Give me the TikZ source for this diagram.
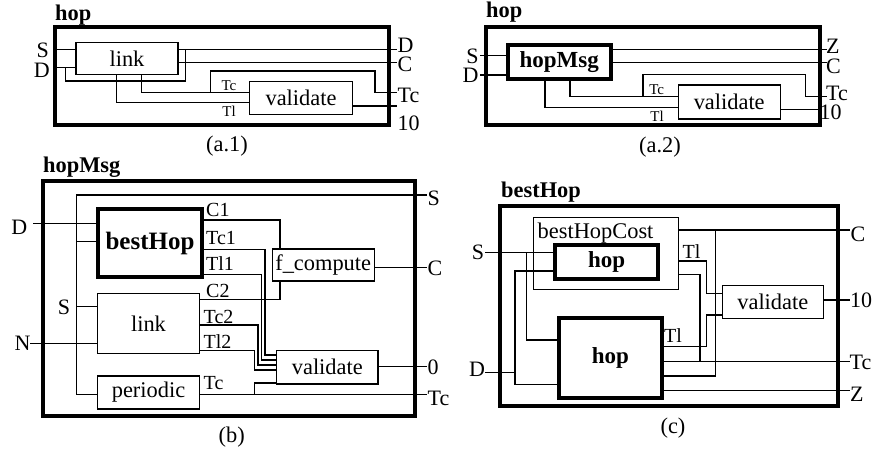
\documentclass[tikz,border=0pt]{standalone}
\usepackage{fontspec}
\setmainfont{Liberation Serif}
\usetikzlibrary{calc}

\begin{document}
\begin{tikzpicture}[x=1pt, y=-1pt,
      panel/.style={draw, line width=4pt, inner sep=0pt},
      blk/.style={draw, line width=1.1pt, inner sep=0pt, font=\fontsize{22.4}{26}\selectfont},
      bblk/.style={draw, line width=4pt, inner sep=0pt, font=\bfseries\fontsize{23}{27}\selectfont},
      wire/.style={line width=1.1pt},
      ttl/.style={anchor=base west, inner sep=0pt, font=\bfseries\fontsize{22.4}{26}\selectfont},
      txt/.style={inner sep=0pt, font=\fontsize{22.4}{26}\selectfont},
      port/.style={inner sep=0pt, font=\fontsize{22}{24}\selectfont},
      sig/.style={inner sep=0pt, font=\fontsize{20}{24}\selectfont},
      tag/.style={inner sep=0pt, font=\fontsize{15}{18}\selectfont},
      capt/.style={inner sep=0pt, font=\fontsize{22.4}{26}\selectfont}]
  \useasboundingbox (0,0) rectangle (873,458);

  % (a.1)
  \node[panel, minimum width=334, minimum height=98] (hopA) at (222,76) {};
  \node[ttl] (hopAt) at (55,20.5) {hop};
  \node[blk, minimum width=102, minimum height=32] (linkA) at (127,58.3) {link};
  \node[blk, minimum width=103, minimum height=32.6] (valA) at (301,98) {validate};
  \coordinate (aDo) at (396.7,49.3);
  \coordinate (aCo) at (396.7,62.7);
  \coordinate (aTco) at (396.7,92.7);
  \coordinate (a10o) at (396.7,106);
  \draw[wire] (hopA.west |- 0,49.3) -- (linkA.west |- 0,49.3);
  \draw[wire] (hopA.west |- 0,67.7) -- (linkA.west |- 0,67.7);
  \draw[wire] (65.7,67.7) |- (185.7,81) -- (185.7,49.3);
  \draw[wire] (linkA.east |- aDo) -- (aDo);
  \draw[wire] (linkA.east |- aCo) -- (aCo);
  \draw[wire] (linkA.south -| 141.7,0) |- (valA.west |- 0,92.7);
  \draw[wire] (linkA.south -| 116.7,0) |- (valA.west |- 0,102.7);
  \draw[wire] (210.7,92.7) |- (375,71) |- (aTco);
  \draw[wire] (valA.east |- a10o) -- (a10o);
  \node[port] (aS) at (42.7,50) {S};
  \node[port] (aD) at (41.7,70) {D};
  \node[port, anchor=west] (aDl) at (397.5,45) {D};
  \node[port, anchor=west] (aCl) at (397.5,64.5) {C};
  \node[port, anchor=west] (aTcl) at (397.5,95) {Tc};
  \node[port, anchor=west] (a10l) at (397.5,123) {10};
  \node[tag] (aTc) at (229,86) {Tc};
  \node[tag] (aTl) at (229,111.5) {Tl};
  \node[capt] (aCap) at (227,146) {(a.1)};

  % (a.2)
  \node[panel, minimum width=334, minimum height=98] (hopM) at (653,76) {};
  \node[ttl] (hopMt) at (486,17.5) {hop};
  \node[bblk, minimum width=103, minimum height=34] (msgM) at (559.2,62) {hopMsg};
  \node[blk, minimum width=101.7, minimum height=34] (valM) at (729.2,102) {validate};
  \coordinate (mSi) at (480,55.7);
  \coordinate (mDi) at (480,75);
  \coordinate (mZo) at (826.7,49.3);
  \coordinate (mCo) at (826.7,62.7);
  \coordinate (mTco) at (826.7,96.5);
  \coordinate (m10o) at (820,109.3);
  \draw[wire] (mSi) -- (msgM.west |- mSi);
  \draw[wire] (mDi) -- (msgM.west |- mDi);
  \draw[wire] (msgM.east |- mZo) -- (mZo);
  \draw[wire] (msgM.east |- mCo) -- (mCo);
  \draw[wire] (msgM.south -| 570,0) |- (valM.west |- 0,96.5);
  \draw[wire] (msgM.south -| 545,0) |- (valM.west |- 0,107.3);
  \draw[wire] (643,96.5) |- (805.7,74.3) |- (mTco);
  \draw[wire] (valM.east |- m10o) -- (m10o);
  \node[port] (mS) at (472.5,56.3) {S};
  \node[port] (mD) at (470.5,75.8) {D};
  \node[port, anchor=west] (mZl) at (826,46.5) {Z};
  \node[port, anchor=west] (mCl) at (826,66) {C};
  \node[port, anchor=west] (mTcl) at (826,93) {Tc};
  \node[port, anchor=west] (m10l) at (819.5,112) {10};
  \node[tag] (mTc) at (656.7,90) {Tc};
  \node[tag] (mTl) at (657,116) {Tl};
  \node[capt] (mCap) at (660,147) {(a.2)};

  % (b)
  \node[panel, minimum width=372, minimum height=235.5] (msgP) at (228.6,298.3) {};
  \node[ttl] (msgPt) at (43,172) {hopMsg};
  \node[bblk, minimum width=103.4, minimum height=68, font=\bfseries\fontsize{25}{29}\selectfont] (bestB) at (150,243.3) {bestHop};
  \node[blk, minimum width=101.6, minimum height=60] (linkB) at (148.5,323.3) {link};
  \node[blk, minimum width=101.6, minimum height=33] (perB) at (148.5,392.5) {periodic};
  \node[blk, minimum width=102.3, minimum height=32] (fcB) at (323.2,265) {f\_compute};
  \node[blk, minimum width=101.3, minimum height=33.3] (valB) at (327.3,367.3) {validate};
  \coordinate (bDi) at (33.3,223.3);
  \coordinate (bNi) at (30,343.3);
  \coordinate (bSo) at (427,195);
  \coordinate (bCo) at (427,267.5);
  \coordinate (b0o) at (427,366.7);
  \coordinate (bTco) at (427,394.5);
  \draw[wire] (bDi) -- (bestB.west |- bDi);
  \draw[wire] (bNi) -- (linkB.west |- bNi);
  \draw[wire] (bSo) -| (76.7,394.5) -- (perB.west |- 0,394.5);
  \draw[wire] (76.7,241.7) -- (bestB.west |- 0,241.7);
  \draw[wire] (76.7,306.7) -- (linkB.west |- 0,306.7);
  \draw[wire] (bestB.east |- 0,220) -| (fcB.north -| 280,0);
  \draw[wire] (bestB.east |- 0,249.3) -| (265,355) -- (valB.west |- 0,355);
  \draw[wire] (bestB.east |- 0,274.3) -| (261.5,360) -- (valB.west |- 0,360);
  \draw[wire] (linkB.east |- 0,299.5) -| (fcB.south -| 280,0);
  \draw[wire] (linkB.east |- 0,325) -| (258,365) -- (valB.west |- 0,365);
  \draw[wire] (linkB.east |- 0,350.7) -| (254.3,370) -- (valB.west |- 0,370);
  \draw[wire] (perB.east |- bTco) -- (bTco);
  \draw[wire] (254.3,394.5) |- (valB.west |- 0,383);
  \draw[wire] (fcB.east |- bCo) -- (bCo);
  \draw[wire] (valB.east |- b0o) -- (b0o);
  \node[port] (bD) at (19.2,227.5) {D};
  \node[port] (bN) at (22.5,343) {N};
  \node[port] (bS) at (64,307) {S};
  \node[port, anchor=west] (bSl) at (427.5,198) {S};
  \node[port, anchor=west] (bCl) at (427.5,268) {C};
  \node[port, anchor=west] (b0l) at (427.5,367) {0};
  \node[port, anchor=west] (bTcl) at (427.5,398) {Tc};
  \node[sig, anchor=west] (bC1) at (206,210) {C1};
  \node[sig, anchor=west] (bTc1) at (206,238) {Tc1};
  \node[sig, anchor=west] (bTl1) at (206,263.3) {Tl1};
  \node[sig, anchor=west] (bC2) at (206,291) {C2};
  \node[sig, anchor=west] (bTc2) at (203.5,316.7) {Tc2};
  \node[sig, anchor=west] (bTl2) at (203.5,341.7) {Tl2};
  \node[sig, anchor=west] (bTc) at (203.5,383.5) {Tc};
  \node[capt] (bCap) at (231.7,437.5) {(b)};

  % (c)
  \node[panel, minimum width=338.3, minimum height=200] (bestP) at (669.2,306) {};
  \node[ttl] (bestPt) at (501,197) {bestHop};
  \node[blk, minimum width=145, minimum height=71.7] (costC) at (605.8,253.2) {};
  \node[txt, anchor=base west] (costCt) at (537.5,238.5) {bestHopCost};
  \node[bblk, minimum width=103.3, minimum height=34] (hopU) at (606.7,262) {hop};
  \node[bblk, minimum width=102.7, minimum height=80] (hopL) at (610.4,358) {hop};
  \node[blk, minimum width=101, minimum height=32.6] (valC) at (772.8,302) {validate};
  \coordinate (cSi) at (485,252.3);
  \coordinate (cDi) at (485,372.7);
  \coordinate (cCo) at (850,230);
  \coordinate (c10o) at (850,300);
  \coordinate (cTco) at (850,361.7);
  \coordinate (cZo) at (850,390.7);
  \draw[wire] (cSi) -- (hopU.west |- cSi);
  \draw[wire] (526.7,252.3) |- (hopL.west |- 0,340);
  \draw[wire] (cDi) -- (515,372.7);
  \draw[wire] (hopU.west |- 0,271) -| (515,384.3) -- (hopL.west |- 0,384.3);
  \draw[wire] (costC.east |- cCo) -- (cCo);
  \draw[wire] (hopL.east |- 0,376) -| (715.3,230);
  \draw[wire] (costC.east |- 0,261) -| (706.7,293.3) -- (valC.west |- 0,293.3);
  \draw[wire] (costC.east |- 0,274.3) -| (700,361.7);
  \draw[wire] (hopL.east |- cTco) -- (cTco);
  \draw[wire] (hopL.east |- 0,346.7) -| (706.7,315) -- (valC.west |- 0,315);
  \draw[wire] (hopL.east |- cZo) -- (cZo);
  \draw[wire] (valC.east |- c10o) -- (c10o);
  \node[port] (cS) at (478,252.5) {S};
  \node[port] (cD) at (477,369) {D};
  \node[port, anchor=west] (cCl) at (850.5,234) {C};
  \node[port, anchor=west] (c10l) at (850,300) {10};
  \node[port, anchor=west] (cTcl) at (849.5,362) {Tc};
  \node[port, anchor=west] (cZl) at (850,394) {Z};
  \node[sig] (cTlU) at (691.5,251.5) {Tl};
  \node[sig] (cTlL) at (673,335.5) {Tl};
  \node[capt] (cCap) at (673,428) {(c)};
\end{tikzpicture}
\end{document}
